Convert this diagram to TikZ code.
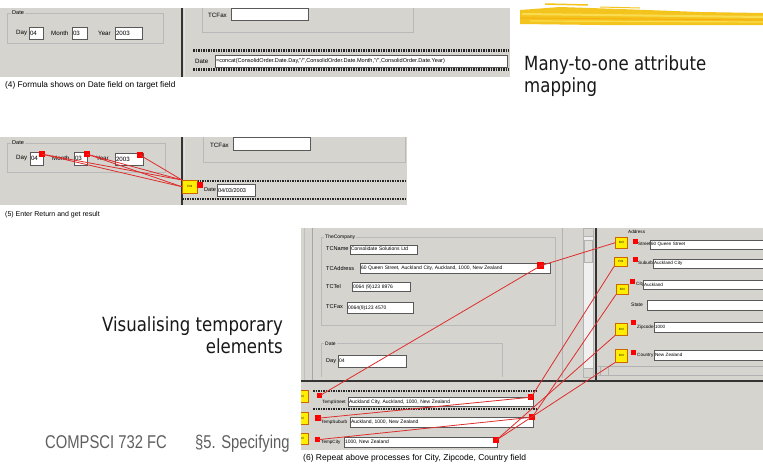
\documentclass[tikz,border=0pt]{standalone}
\usepackage{fontspec}
\setmainfont{Liberation Sans}
\newfontfamily\slidefont{DejaVu Sans}[FakeStretch=0.85]
\newfontfamily\footfont{Liberation Sans}[FakeStretch=0.8]
\definecolor{winbg}{RGB}{214,212,207}
\definecolor{rl}{RGB}{222,45,45}
\definecolor{fmly}{RGB}{255,238,0}
\definecolor{brushA}{RGB}{244,196,30}
\definecolor{brushB}{RGB}{250,220,80}
\definecolor{footgray}{RGB}{95,95,95}
\tikzset{
 tinytext/.style={font=\fontsize{4.6}{5}\selectfont},
 fld/.style={draw=gray!70!black, line width=0.4pt, fill=white, inner xsep=0.8pt, inner ysep=0.2pt, anchor=north west, align=left, tinytext},
 lbl/.style={anchor=west, inner sep=0pt, tinytext},
 bigA/.style={font=\fontsize{6.2}{6.5}\selectfont},
 midA/.style={font=\fontsize{5.6}{6}\selectfont},
 smlA/.style={font=\fontsize{5}{5.5}\selectfont},
 grp/.style={draw=gray!55, line width=0.5pt},
 fml/.style={draw=orange!80!black, fill=fmly, line width=0.5pt, inner sep=0pt, anchor=north west, font=\fontsize{3}{3}\selectfont},
 rsq/.style={fill=red, inner sep=0pt, anchor=north west},
 rline/.style={draw=rl, line width=0.8pt},
 ants/.style={draw=gray!30!black, line width=2.2pt, dash pattern=on 1.5pt off 1pt},
 sepline/.style={draw=gray!40!black, line width=2pt},
 capt/.style={font=\fontsize{7}{8}\selectfont, anchor=base west, inner sep=0pt},
 slidetxt/.style={font=\slidefont\fontsize{19.5}{22}\selectfont, inner sep=0pt, text=black!90},
 foot/.style={font=\footfont\fontsize{18.5}{20}\selectfont, inner sep=0pt, text=footgray, anchor=base west},
}
\begin{document}
\begin{tikzpicture}[x=1pt,y=-1pt]
\useasboundingbox (0,0) rectangle (763,464);
\fill[white] (0,0) rectangle (763,464);

% ---- brush stroke ----
\fill[brushA] (520,10) -- (560,7) -- (620,9) -- (700,12) -- (763,13) -- (763,25) -- (700,25) -- (600,25) -- (520,24) -- cycle;
\draw[brushB, line width=2pt] (522,14) -- (763,17);
\draw[brushB, line width=1.2pt] (530,21) -- (763,22);
\draw[orange!80!yellow, line width=0.8pt, opacity=0.6] (520,18) -- (763,20);
\draw[brushA, line width=1.5pt] (545,4) -- (588,5);
\draw[brushA, line width=1pt] (600,7) -- (640,8);

% ---- slide text ----
\node[slidetxt, anchor=base west] (t1) at (524,70) {Many-to-one attribute};
\node[slidetxt, anchor=base west] (t2) at (524,92) {mapping};
\node[slidetxt, anchor=base east] (v1) at (283,331) {Visualising temporary};
\node[slidetxt, anchor=base east] (v2) at (283,353) {elements};
\node[foot] (f1) at (45,448) {COMPSCI 732 FC};
\node[foot] (f2) at (195,448) {§5. Specifying};

% ==== screenshot 1 ====
\fill[winbg] (0,8) rectangle (510,77);
\draw[grp] (7,13) rectangle (163,43);
\node[lbl, midA, fill=winbg, inner xsep=1pt] (a-dl) at (11,13) {Date};
\node[lbl, bigA] (a-dayl) at (16,33) {Day};
\node[fld, bigA, text width=12pt, minimum height=12pt] (a-day) at (29,27) {04};
\node[lbl, bigA] (a-monl) at (51,33) {Month};
\node[fld, bigA, text width=13pt, minimum height=12pt] (a-mon) at (72,27) {03};
\node[lbl, bigA] (a-yearl) at (98,33) {Year};
\node[fld, bigA, text width=25pt, minimum height=12pt] (a-year) at (115,27) {2003};
\draw[sepline] (181.5,8) -- (181.5,77);
\draw[white!75!gray, line width=1pt] (184.5,8) -- (184.5,77);
\draw[grp] (202,8) -- (202,32) -- (413,32) -- (413,8);
\node[lbl, bigA] (a-faxl) at (208,15) {TCFax};
\node[fld, text width=75pt, minimum height=12pt] (a-fax) at (231,8) {};
\draw[ants] (193,50.5) -- (509,50.5);
\draw[ants] (193,69.5) -- (509,69.5);
\node[lbl, bigA] (a-datel) at (195,61) {Date};
\node[fld, text width=290pt, minimum height=12pt, font=\fontsize{5.6}{6}\selectfont] (a-date) at (215,55) {=concat(ConsolidOrder.Date.Day,"/",ConsolidOrder.Date.Month,"/",ConsolidOrder.Date.Year)};
\node[capt, font=\fontsize{8.3}{9}\selectfont] (c4) at (5,87) {(4) Formula shows on Date field on target field};

% ==== screenshot 2 ====
\fill[winbg] (0,137) rectangle (407,205);
\draw[grp] (7,143) rectangle (165,172);
\node[lbl, midA, fill=winbg, inner xsep=1pt] (b-dl) at (11,143) {Date};
\node[lbl, bigA] (b-dayl) at (16,158) {Day};
\node[fld, bigA, text width=11pt, minimum height=13pt] (b-day) at (30,152) {04};
\node[lbl, bigA] (b-monl) at (52,158) {Month};
\node[fld, bigA, text width=11pt, minimum height=13pt] (b-mon) at (74,152) {03};
\node[lbl, bigA] (b-yearl) at (96,158) {Year};
\node[fld, bigA, text width=26pt, minimum height=12pt] (b-year) at (115,153) {2003};
\node[rsq, minimum size=6pt] (b-dayr) at (39,151) {};
\node[rsq, minimum size=6pt] (b-monr) at (84,151) {};
\node[rsq, minimum size=6pt] (b-yearr) at (137,152) {};
\draw[sepline] (181.5,137) -- (181.5,205);
\draw[white!75!gray, line width=1pt] (184.5,137) -- (184.5,178);
\draw[grp] (203,137) -- (203,162) -- (405,162) -- (405,137);
\node[lbl, bigA] (b-faxl) at (210,145) {TCFax};
\node[fld, text width=75pt, minimum height=13pt] (b-fax) at (233,137) {};
\draw[ants] (182,181) -- (407,181);
\draw[ants] (182,199) -- (407,199);
\node[fml, minimum width=15pt, minimum height=13pt] (b-fml) at (182,180) {Fml};
\node[rsq, minimum size=6pt] (b-fr) at (197,182) {};
\node[lbl, midA] (b-datel) at (204,190) {Date};
\node[fld, midA, text width=36pt, minimum height=12pt] (b-date) at (217,184) {04/03/2003};
\draw[rline] (b-dayr.center) -- (b-fml.north west);
\draw[rline] (b-dayr.center) -- (b-fml.west);
\draw[rline] (b-monr.center) -- (b-fml.north west);
\draw[rline] (b-monr.center) -- (b-fml.west);
\draw[rline] (b-yearr.center) -- (b-fml.north west);
\node[capt] (c5) at (5,216) {(5) Enter Return and get result};

% ==== screenshot 3 ====
\begin{scope}
\clip (301,225) rectangle (763,464);
\fill[winbg] (301,228) rectangle (763,450);
\draw[gray!50] (304,228) -- (304,380);
\draw[gray!70] (312,228) -- (312,380);
\draw[grp] (321,237) rectangle (555,325);
\node[lbl, smlA, fill=winbg, inner xsep=1pt] (c-grp) at (324,237) {TheCompany};
\node[lbl, midA] (c-namel) at (326,249) {TCName};
\node[fld, smlA, text width=65pt, minimum height=9pt] (c-name) at (350,244.5) {Consolidate Solutions Ltd};
\node[lbl, midA] (c-addrl) at (326,268) {TCAddress};
\node[fld, smlA, text width=188pt, minimum height=10pt] (c-addr) at (360,263) {60 Queen Street, Auckland City, Auckland, 1000, New Zealand};
\node[rsq, minimum size=7pt] (c-addrr) at (537,262) {};
\node[lbl, midA] (c-tell) at (326,286) {TCTel};
\node[fld, smlA, text width=56pt, minimum height=9pt] (c-tel) at (352,282) {0064 (9)123 8976};
\node[lbl, midA] (c-faxl) at (326,307) {TCFax};
\node[fld, smlA, text width=64pt, minimum height=11pt] (c-fax) at (347,302) {0064(9)123 4570};
\draw[grp] (321,377) -- (321,343) -- (502,343) -- (502,377);
\node[lbl, smlA, fill=winbg, inner xsep=1pt] (c-dl) at (324,344) {Date};
\node[lbl, midA] (c-dayl) at (326,361) {Day};
\node[fld, smlA, text width=66pt, minimum height=12pt] (c-day) at (338,355) {04};
\draw[gray!60] (562,228) -- (562,378);
% scrollbar
\draw[gray!60, fill=gray!12] (583,228) rectangle (593,377);
\draw[gray!60, fill=winbg] (583,228) rectangle (593,236);
\draw[gray!60, fill=winbg] (583,368) rectangle (593,377);
\draw[gray!60, fill=winbg!80!white] (584,240) rectangle (592,262);
\draw[sepline] (596,228) -- (596,380);
\draw[gray!60] (598,366) -- (763,366);
\draw[gray!60] (598,375) -- (763,375);
\draw[gray!60, fill=winbg] (600,366) rectangle (608,375);
\draw[sepline] (301,381) -- (763,381);
% address panel
\node[lbl] (c-addl) at (628,232) {Address};
\node[fml, minimum width=12pt, minimum height=11pt] (s-fml) at (615,237) {Fml};
\node[rsq, minimum size=5pt] (s-r) at (633,239) {};
\node[lbl] (s-l) at (638,244) {Street};
\node[fld, text width=112pt, minimum height=9pt] (s-f) at (650,240) {60 Queen Street};
\node[fml, minimum width=13pt, minimum height=9pt] (u-fml) at (614,257) {Fml};
\node[rsq, minimum size=5pt] (u-r) at (633,257) {};
\node[lbl] (u-l) at (638,263) {Suburb};
\node[fld, text width=109pt, minimum height=9pt] (u-f) at (653,259) {Auckland City};
\node[fml, minimum width=12pt, minimum height=10pt] (y-fml) at (616,284) {Fml};
\node[rsq, minimum size=5pt] (y-r) at (630,279) {};
\node[lbl] (y-l) at (636,284) {City};
\node[fld, text width=119pt, minimum height=9pt] (y-f) at (643,280) {Auckland};
\node[lbl, smlA] (st-l) at (631,305) {State};
\node[fld, text width=115pt, minimum height=10pt] (st-f) at (647,300) {};
\node[fml, minimum width=12pt, minimum height=12pt] (z-fml) at (615,323) {Fml};
\node[rsq, minimum size=5pt] (z-r) at (631,320) {};
\node[lbl] (z-l) at (637,327) {Zipcode};
\node[fld, text width=108pt, minimum height=10pt] (z-f) at (654,322) {1000};
\node[fml, minimum width=12pt, minimum height=13pt] (k-fml) at (615,349) {Fml};
\node[rsq, minimum size=5pt] (k-r) at (631,350) {};
\node[lbl] (k-l) at (637,355) {Country};
\node[fld, text width=108pt, minimum height=10pt] (k-f) at (654,350) {New Zealand};
% temporary rows
\draw[ants] (313,391) -- (536,391);
\draw[ants] (313,409) -- (536,409);
\node[fml, minimum width=14pt, minimum height=12pt] (r1-fml) at (294,390) {Fml};
\node[rsq, minimum size=5pt] (r1-l) at (317,393) {};
\node[lbl] (r1-lab) at (322,402) {TempStreet};
\node[fld, smlA, text width=183pt, minimum height=9pt] (r1-f) at (348,397) {Auckland City, Auckland, 1000, New Zealand};
\node[rsq, minimum size=6pt] (r1-r) at (528,394) {};
\node[fml, minimum width=14pt, minimum height=12pt] (r2-fml) at (294,412) {Fml};
\node[rsq, minimum size=6pt] (r2-l) at (315,415) {};
\node[lbl] (r2-lab) at (321,422) {TempSuburb};
\node[fld, smlA, text width=181pt, minimum height=10pt] (r2-f) at (350,417) {Auckland, 1000, New Zealand};
\node[rsq, minimum size=6pt] (r2-r) at (529,414) {};
\node[fml, minimum width=14pt, minimum height=11pt] (r3-fml) at (294,433) {Fml};
\node[rsq, minimum size=5pt] (r3-l) at (315,437) {};
\node[lbl] (r3-lab) at (321,442) {TempCity};
\node[fld, smlA, text width=151pt, minimum height=10pt] (r3-f) at (344,437) {1000, New Zealand};
\node[rsq, minimum size=6pt] (r3-r) at (493,437) {};
% connectors
\draw[rline] (c-addrr.center) -- (s-fml.west);
\draw[rline] (c-addrr.center) -- (r1-l.center);
\draw[rline] (r2-l.center) -- (r1-r.center);
\draw[rline] (r3-l.center) -- (r2-r.center);
\draw[rline] (r1-r.center) -- (u-fml.south west);
\draw[rline] (r2-r.center) -- (y-fml.south west);
\draw[rline] (r3-r.center) -- (z-fml.south west);
\draw[rline] (r3-r.center) -- (k-fml.south west);
\end{scope}
\node[capt, font=\fontsize{8.5}{9}\selectfont] (c6) at (303,460) {(6) Repeat above processes for City, Zipcode, Country field};
\end{tikzpicture}
\end{document}
